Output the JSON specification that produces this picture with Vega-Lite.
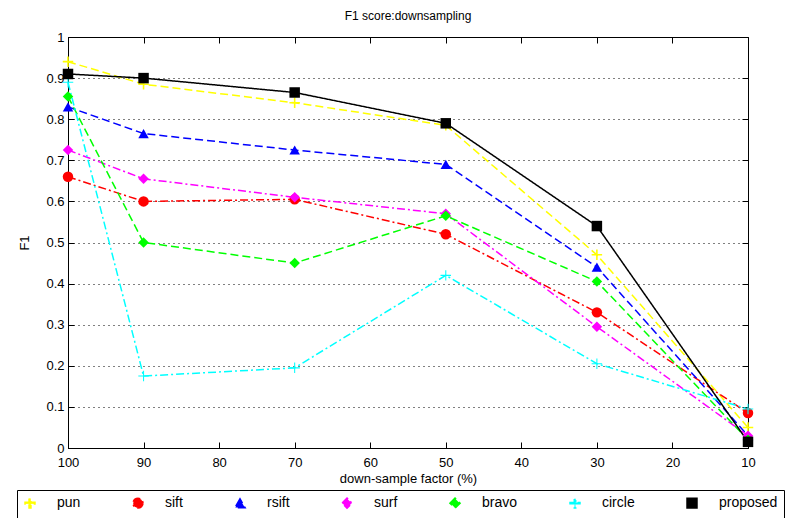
{
  "$schema": "https://vega.github.io/schema/vega-lite/v6.json",
  "autosize": {"type": "none"},
  "width": 680,
  "height": 411,
  "padding": {"left": 68, "top": 37, "right": 42, "bottom": 70},
  "background": "white",
  "title": {"text": "F1 score:downsampling", "fontSize": 12, "fontWeight": "normal", "font": "Liberation Sans", "offset": 8, "color": "black"},
  "config": {
    "view": {"stroke": "black", "strokeWidth": 1},
    "font": "Liberation Sans",
    "axis": {"labelFont": "Liberation Sans", "titleFont": "Liberation Sans", "labelFontSize": 13, "titleFontSize": 13, "titleFontWeight": "normal", "labelColor": "black", "titleColor": "black", "domainColor": "black", "tickColor": "black"}
  },
  "data": {"values": [
    {"f": 100, "m": "pun", "v": 0.94}, {"f": 90, "m": "pun", "v": 0.885}, {"f": 70, "m": "pun", "v": 0.84}, {"f": 50, "m": "pun", "v": 0.785}, {"f": 30, "m": "pun", "v": 0.47}, {"f": 10, "m": "pun", "v": 0.05},
    {"f": 100, "m": "sift", "v": 0.66}, {"f": 90, "m": "sift", "v": 0.6}, {"f": 70, "m": "sift", "v": 0.605}, {"f": 50, "m": "sift", "v": 0.52}, {"f": 30, "m": "sift", "v": 0.33}, {"f": 10, "m": "sift", "v": 0.085},
    {"f": 100, "m": "rsift", "v": 0.83}, {"f": 90, "m": "rsift", "v": 0.765}, {"f": 70, "m": "rsift", "v": 0.725}, {"f": 50, "m": "rsift", "v": 0.69}, {"f": 30, "m": "rsift", "v": 0.44}, {"f": 10, "m": "rsift", "v": 0.03},
    {"f": 100, "m": "surf", "v": 0.725}, {"f": 90, "m": "surf", "v": 0.655}, {"f": 70, "m": "surf", "v": 0.61}, {"f": 50, "m": "surf", "v": 0.57}, {"f": 30, "m": "surf", "v": 0.295}, {"f": 10, "m": "surf", "v": 0.03},
    {"f": 100, "m": "bravo", "v": 0.855}, {"f": 90, "m": "bravo", "v": 0.5}, {"f": 70, "m": "bravo", "v": 0.45}, {"f": 50, "m": "bravo", "v": 0.565}, {"f": 30, "m": "bravo", "v": 0.405}, {"f": 10, "m": "bravo", "v": 0.02},
    {"f": 100, "m": "circle", "v": 0.89}, {"f": 90, "m": "circle", "v": 0.175}, {"f": 70, "m": "circle", "v": 0.195}, {"f": 50, "m": "circle", "v": 0.42}, {"f": 30, "m": "circle", "v": 0.205}, {"f": 10, "m": "circle", "v": 0.095},
    {"f": 100, "m": "proposed", "v": 0.91}, {"f": 90, "m": "proposed", "v": 0.9}, {"f": 70, "m": "proposed", "v": 0.865}, {"f": 50, "m": "proposed", "v": 0.79}, {"f": 30, "m": "proposed", "v": 0.54}, {"f": 10, "m": "proposed", "v": 0.015}
  ]},
  "layer": [
    {
      "mark": {"type": "line", "strokeWidth": 1.5, "clip": false},
      "encoding": {
        "x": {"field": "f", "type": "quantitative", "scale": {"domain": [100, 10], "nice": false}, "title": "down-sample factor (%)",
              "axis": {"values": [100, 90, 80, 70, 60, 50, 40, 30, 20, 10], "grid": false, "tickSize": -6, "labelPadding": 14, "titlePadding": 3, "labelFlush": false}},
        "y": {"field": "v", "type": "quantitative", "scale": {"domain": [0, 1], "nice": false}, "title": "F1",
              "axis": {"values": [0, 0.1, 0.2, 0.3, 0.4, 0.5, 0.6, 0.7, 0.8, 0.9, 1], "format": "~g", "grid": true, "gridDash": [1, 4], "gridColor": "black", "gridOpacity": 1, "tickSize": -6, "labelPadding": 10, "titlePadding": 14, "labelFlush": false}},
        "color": {"field": "m", "type": "nominal", "sort": ["pun", "sift", "rsift", "surf", "bravo", "circle", "proposed"],
                  "scale": {"domain": ["pun", "sift", "rsift", "surf", "bravo", "circle", "proposed"], "range": ["#ffff00", "#ff0000", "#0000ff", "#ff00ff", "#00ff00", "#00ffff", "#000000"]},
                  "legend": {"orient": "none", "legendX": -51, "legendY": 453, "direction": "horizontal", "columns": 7, "title": null, "strokeColor": "black", "fillColor": "white", "padding": 6, "labelFontSize": 14, "labelFont": "Liberation Sans", "labelColor": "black", "symbolSize": 90, "labelOffset": 20, "columnPadding": 48, "symbolStrokeWidth": 2}},
        "strokeDash": {"field": "m", "type": "nominal", "sort": ["pun", "sift", "rsift", "surf", "bravo", "circle", "proposed"],
                  "scale": {"domain": ["pun", "sift", "rsift", "surf", "bravo", "circle", "proposed"], "range": [[8, 4], [8, 3, 2, 3], [8, 4], [8, 3, 2, 3], [8, 4], [8, 3, 2, 3], [1, 0]]}, "legend": null},
        "detail": {"field": "m"}
      }
    },
    {
      "mark": {"type": "point", "filled": true, "opacity": 1, "clip": false},
      "encoding": {
        "x": {"field": "f", "type": "quantitative", "axis": {"orient": "top", "values": [100, 90, 80, 70, 60, 50, 40, 30, 20, 10], "labels": false, "title": null, "grid": false, "tickSize": -6, "domain": false}},
        "y": {"field": "v", "type": "quantitative", "axis": {"orient": "right", "values": [0, 0.1, 0.2, 0.3, 0.4, 0.5, 0.6, 0.7, 0.8, 0.9, 1], "labels": false, "title": null, "grid": false, "tickSize": -6, "domain": false}},
        "color": {"field": "m", "type": "nominal", "sort": ["pun", "sift", "rsift", "surf", "bravo", "circle", "proposed"]},
        "shape": {"field": "m", "type": "nominal", "sort": ["pun", "sift", "rsift", "surf", "bravo", "circle", "proposed"],
                  "scale": {"domain": ["pun", "sift", "rsift", "surf", "bravo", "circle", "proposed"], "range": ["M-1,-0.15L-0.15,-0.15L-0.15,-1L0.15,-1L0.15,-0.15L1,-0.15L1,0.15L0.15,0.15L0.15,1L-0.15,1L-0.15,0.15L-1,0.15Z", "circle", "triangle-up", "diamond", "diamond", "M-1,-0.1L-0.1,-0.1L-0.1,-1L0.1,-1L0.1,-0.1L1,-0.1L1,0.1L0.1,0.1L0.1,1L-0.1,1L-0.1,0.1L-1,0.1Z", "square"]}},
        "size": {"value": 110}
      }
    }
  ],
  "resolve": {"axis": {"x": "independent", "y": "independent"}}
}
